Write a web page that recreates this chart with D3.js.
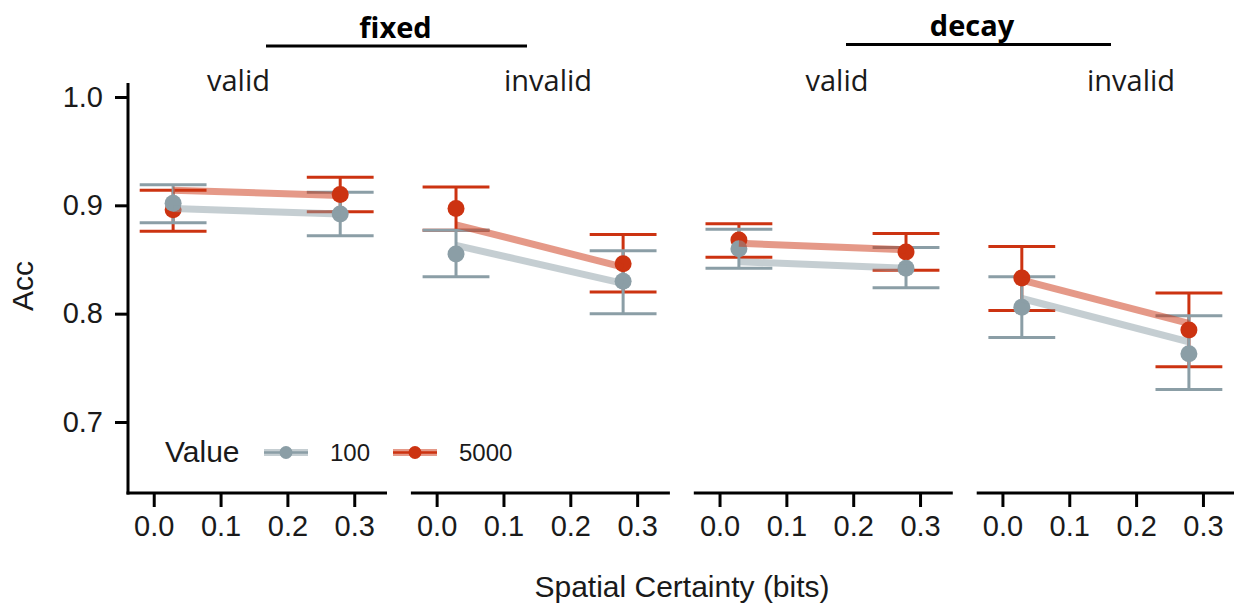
<!DOCTYPE html>
<html>
<head>
<meta charset="utf-8">
<script src="https://cdn.jsdelivr.net/npm/d3@7"></script>
<style>
  html, body { margin: 0; padding: 0; background: #fff; }
  svg { display: block; }
</style>
</head>
<body>
<svg id="chart" width="1234" height="603"></svg>
<script>
// ---------------- data ----------------
const conditions = ["fixed", "decay"];
const validity = ["valid", "invalid", "valid", "invalid"];
const certainty = [0.029, 0.279];           // x positions of the two levels (bits)
const valueLevels = ["100", "5000"];
const xTicks = [0.0, 0.1, 0.2, 0.3];
const yTicks = [0.7, 0.8, 0.9, 1.0];

// mean accuracy per panel [x1, x2]
const acc100  = [[0.902, 0.892], [0.855, 0.830], [0.860, 0.842], [0.806, 0.763]];
const acc5000 = [[0.896, 0.910], [0.897, 0.846], [0.868, 0.857], [0.833, 0.785]];
// error bars low/high per panel, per x
const lo100  = [[0.884, 0.872], [0.834, 0.800], [0.842, 0.824], [0.778, 0.730]];
const hi100  = [[0.919, 0.912], [0.877, 0.858], [0.878, 0.861], [0.834, 0.798]];
const lo5000 = [[0.876, 0.894], [0.877, 0.820], [0.852, 0.840], [0.803, 0.751]];
const hi5000 = [[0.914, 0.926], [0.917, 0.873], [0.883, 0.874], [0.862, 0.819]];
// model fit lines per panel [x1, x2]
const fit100  = [[0.897, 0.892], [0.863, 0.828], [0.848, 0.842], [0.814, 0.774]];
const fit5000 = [[0.914, 0.909], [0.882, 0.843], [0.865, 0.859], [0.831, 0.791]];

// ---------------- styles ----------------
const colors = { "100": "#8b9ea6", "5000": "#cc3311" };
const sansUI = "'Liberation Sans', Arial, sans-serif";
const stripFont = "'Open Sans', 'Noto Sans', sans-serif";

const svg = d3.select("#chart");

// layout
const plotTop = 83, plotBottom = 493;
const panelLeft0 = 128, panelStep = 282.9, panelW = 259;
const xDomain = [-0.0385, 0.349];

const y = d3.scaleLinear().domain([0.6354, 1.0129]).range([plotBottom - 1, plotTop]);

const series = [
  { key: "5000", acc: acc5000, lo: lo5000, hi: hi5000, fit: fit5000 },
  { key: "100",  acc: acc100,  lo: lo100,  hi: hi100,  fit: fit100 }
];

const errHalf = 0.05;

for (let p = 0; p < 4; p++) {
  const left = panelLeft0 + p * panelStep;
  const x = d3.scaleLinear().domain(xDomain).range([left, left + panelW]);
  const g = svg.append("g");

  // x axis
  const ax = g.append("g").attr("transform", `translate(0,${plotBottom})`)
    .call(d3.axisBottom(x).tickValues(xTicks).tickFormat(d3.format(".1f")).tickSize(14).tickPadding(8).tickSizeOuter(0));
  ax.select(".domain").attr("stroke", "#000").attr("stroke-width", 3)
    .attr("d", `M${left - (p === 0 ? 1.5 : 0)},0H${left + panelW}`);
  ax.selectAll(".tick line").attr("stroke", "#000").attr("stroke-width", 3);
  ax.selectAll(".tick text").attr("font-family", sansUI).attr("font-size", 29).attr("fill", "#1a1a1a");

  // error bars
  series.forEach(s => {
    const eg = g.append("g");
    certainty.forEach((cx, i) => {
      const col = colors[s.key];
      eg.append("line").attr("x1", x(cx)).attr("x2", x(cx))
        .attr("y1", y(s.lo[p][i])).attr("y2", y(s.hi[p][i]))
        .attr("stroke", col).attr("stroke-width", 3);
      [s.lo[p][i], s.hi[p][i]].forEach(v => {
        eg.append("line").attr("x1", x(cx - errHalf)).attr("x2", x(cx + errHalf))
          .attr("y1", y(v)).attr("y2", y(v))
          .attr("stroke", col).attr("stroke-width", 3);
      });
    });
  });
  // points
  series.forEach(s => {
    g.selectAll(null).data(certainty).enter().append("circle")
      .attr("cx", d => x(d)).attr("cy", (d, i) => y(s.acc[p][i]))
      .attr("r", 8.5).attr("fill", colors[s.key]);
  });
  // fit lines
  series.forEach(s => {
    const line = d3.line().x(d => x(d[0])).y(d => y(d[1]));
    g.append("path").datum(certainty.map((c, i) => [c, s.fit[p][i]]))
      .attr("d", line).attr("fill", "none")
      .attr("stroke", colors[s.key]).attr("stroke-width", 7).attr("stroke-opacity", 0.5);
  });
}

// y axis
const yAx = svg.append("g").attr("transform", `translate(${panelLeft0},0)`)
  .call(d3.axisLeft(y).tickValues(yTicks).tickFormat(d3.format(".1f")).tickSize(13).tickPadding(12).tickSizeOuter(0));
yAx.select(".domain").attr("stroke", "#000").attr("stroke-width", 3).attr("d", `M0,${plotTop}V${plotBottom + 1.5}`);
yAx.selectAll(".tick line").attr("stroke", "#000").attr("stroke-width", 3);
yAx.selectAll(".tick text").attr("font-family", sansUI).attr("font-size", 29).attr("fill", "#1a1a1a");

// axis titles
svg.append("text").attr("x", 682).attr("y", 597).attr("text-anchor", "middle")
  .attr("font-family", sansUI).attr("font-size", 30).attr("fill", "#1a1a1a")
  .text("Spatial Certainty (bits)");
svg.append("text").attr("transform", "translate(33,286) rotate(-90)").attr("text-anchor", "middle")
  .attr("font-family", sansUI).attr("font-size", 30).attr("fill", "#1a1a1a")
  .text("Acc");

// strip labels
const stripCenters = [238.5, 548, 837, 1131];
validity.forEach((t, i) => {
  svg.append("text").attr("x", stripCenters[i]).attr("y", 91).attr("text-anchor", "middle")
    .attr("font-family", stripFont).attr("font-size", 29).attr("fill", "#1a1a1a").text(t);
});
const groupSpans = [[266, 527], [846, 1111]];
const groupCenters = [395.5, 972];
conditions.forEach((c, i) => {
  svg.append("line").attr("x1", groupSpans[i][0]).attr("x2", groupSpans[i][1])
    .attr("y1", i === 0 ? 46 : 44.5).attr("y2", i === 0 ? 46 : 44.5)
    .attr("stroke", "#000").attr("stroke-width", 3);
  svg.append("text").attr("x", groupCenters[i]).attr("y", i === 0 ? 37.5 : 35.5).attr("text-anchor", "middle")
    .attr("font-family", stripFont).attr("font-weight", "bold").attr("font-size", 29).attr("fill", "#000").text(c);
});

// legend
const lg = svg.append("g");
lg.append("text").attr("x", 165).attr("y", 462).attr("font-family", sansUI).attr("font-size", 30)
  .attr("fill", "#1a1a1a").text("Value");
const keyX = [264, 393];
valueLevels.forEach((v, i) => {
  const kx = keyX[i], ky = 452.5, kw = 44;
  lg.append("line").attr("x1", kx).attr("x2", kx + kw).attr("y1", ky).attr("y2", ky)
    .attr("stroke", colors[v]).attr("stroke-width", 7).attr("stroke-opacity", 0.5);
  lg.append("line").attr("x1", kx).attr("x2", kx + kw).attr("y1", ky).attr("y2", ky)
    .attr("stroke", colors[v]).attr("stroke-width", 2.5);
  lg.append("circle").attr("cx", kx + kw / 2).attr("cy", ky).attr("r", 6.5).attr("fill", colors[v]);
  lg.append("text").attr("x", kx + kw + 22).attr("y", 461).attr("font-family", sansUI).attr("font-size", 24)
    .attr("fill", "#1a1a1a").text(v);
});
</script>
</body>
</html>
